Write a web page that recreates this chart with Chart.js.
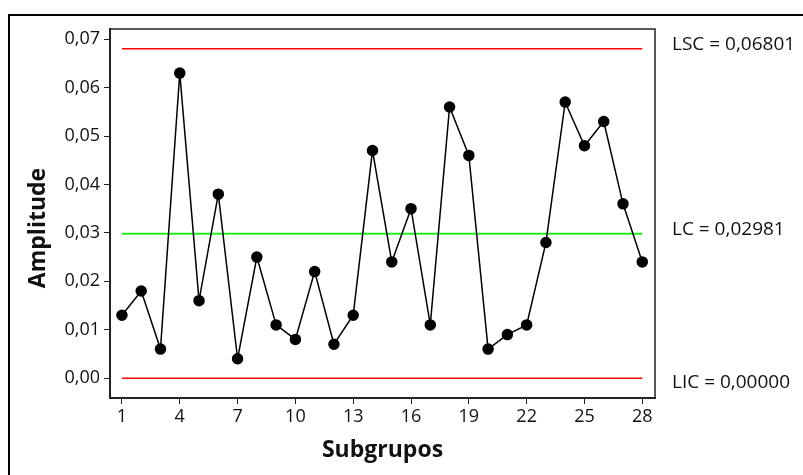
<!DOCTYPE html>
<html>
<head>
<meta charset="utf-8">
<script src="https://cdn.jsdelivr.net/npm/chart.js@4.4.1/dist/chart.umd.min.js"></script>
<style>
  html, body { margin: 0; padding: 0; background: #fff; }
  #wrap { position: relative; width: 803px; height: 475px; overflow: hidden; }
  #frame { position: absolute; left: 8px; top: 14px; width: 900px; height: 600px;
           border-top: 2px solid #000; border-left: 2px solid #000; }
  canvas { position: absolute; left: 0; top: 0; }
</style>
</head>
<body>
<div id="wrap">
  <div id="frame"></div>
  <canvas id="chart" width="803" height="475"></canvas>
</div>
<script>
const subgrupos = [1, 2, 3, 4, 5, 6, 7, 8, 9, 10, 11, 12, 13, 14,
  15, 16, 17, 18, 19, 20, 21, 22, 23, 24, 25, 26, 27, 28];
const amplitude = [0.013, 0.018, 0.006, 0.063, 0.016, 0.038, 0.004, 0.025, 0.011, 0.008,
  0.022, 0.007, 0.013, 0.047, 0.024, 0.035, 0.011, 0.056, 0.046, 0.006,
  0.009, 0.011, 0.028, 0.057, 0.048, 0.053, 0.036, 0.024];
const limitNames = ['LSC', 'LC', 'LIC'];
const limitValues = [0.06801, 0.02981, 0.00000];
const limitColors = ['#ff0000', '#22ee22', '#ff0000'];
const xTicks = [1, 4, 7, 10, 13, 16, 19, 22, 25, 28];
const yTicks = [0, 0.01, 0.02, 0.03, 0.04, 0.05, 0.06, 0.07];

const fmt = (v, d) => v.toFixed(d).replace('.', ',');
const FONT = "'Open Sans', 'Noto Sans', sans-serif";

const first = subgrupos[0];
const last = subgrupos[subgrupos.length - 1];

const limitSets = limitValues.map((v, i) => ({
  label: limitNames[i],
  data: [{ x: first, y: v }, { x: last, y: v }],
  showLine: true,
  borderColor: limitColors[i],
  borderWidth: i === 1 ? 2 : 1.5,
  pointRadius: 0,
  order: 2,
}));

// moldura do gráfico, rótulos dos limites e títulos
const decor = {
  id: 'decor',
  afterDraw(chart) {
    const { ctx, chartArea: a, scales } = chart;
    ctx.save();
    ctx.strokeStyle = '#222';
    ctx.lineWidth = 1.5;
    ctx.beginPath();
    ctx.moveTo(a.left, a.top);
    ctx.lineTo(a.right, a.top);
    ctx.lineTo(a.right, a.bottom);
    ctx.stroke();

    ctx.fillStyle = '#111';
    ctx.font = `19px ${FONT}`;
    ctx.textAlign = 'left';
    ctx.textBaseline = 'middle';
    const offs = [-4, -4, 4];
    limitValues.forEach((v, i) => {
      const y = scales.y.getPixelForValue(v) + offs[i];
      ctx.fillText(`${limitNames[i]} = ${fmt(v, 5)}`, a.right + 17, y);
    });

    ctx.font = `bold 23px ${FONT}`;
    ctx.textAlign = 'center';
    ctx.fillText('Subgrupos', (a.left + a.right) / 2, 450);
    ctx.translate(38, 228);
    ctx.rotate(-Math.PI / 2);
    ctx.fillText('Amplitude', 0, 0);
    ctx.restore();
  },
};

new Chart(document.getElementById('chart'), {
  type: 'scatter',
  data: {
    datasets: [
      ...limitSets,
      {
        label: 'Amplitude',
        data: subgrupos.map((s, i) => ({ x: s, y: amplitude[i] })),
        showLine: true,
        borderColor: '#000',
        borderWidth: 1.5,
        pointRadius: 5,
        pointBackgroundColor: '#000',
        pointBorderColor: '#000',
        order: 1,
      },
    ],
  },
  options: {
    responsive: false,
    animation: false,
    layout: { padding: { left: 0, top: 29, right: 148, bottom: 0 } },
    plugins: { legend: { display: false }, tooltip: { enabled: false } },
    scales: {
      x: {
        type: 'linear',
        min: 0.38,
        max: 28.66,
        afterBuildTicks: (s) => { s.ticks = xTicks.map((v) => ({ value: v })); },
        afterFit: (s) => { s.height = 77; },
        grid: { drawOnChartArea: false, drawTicks: true, tickLength: 6, color: '#222' },
        border: { display: true, color: '#222', width: 2 },
        ticks: { color: '#111', font: { family: FONT, size: 18 }, padding: 2, maxRotation: 0 },
      },
      y: {
        min: -0.0041,
        max: 0.0721,
        afterBuildTicks: (s) => { s.ticks = yTicks.map((v) => ({ value: v })); },
        afterFit: (s) => { s.width = 110; },
        grid: { drawOnChartArea: false, drawTicks: true, tickLength: 6, color: '#222' },
        border: { display: true, color: '#222', width: 2 },
        ticks: { color: '#111', font: { family: FONT, size: 18 }, padding: 4,
                 callback: (v) => fmt(v, 2) },
      },
    },
  },
  plugins: [decor],
});
</script>
</body>
</html>
